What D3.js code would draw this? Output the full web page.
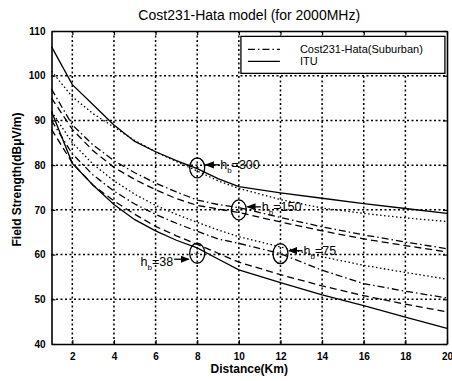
<!DOCTYPE html>
<html>
<head>
<meta charset="utf-8">
<script src="https://cdn.jsdelivr.net/npm/d3@7"></script>
<style>
	body { margin: 0; background: #fff; }
	svg { display: block; font-family: "Liberation Sans", Arial, sans-serif; }
	.grid line { stroke: #000; stroke-width: 1.5; stroke-dasharray: 2,2.5; }
	.curve { fill: none; stroke: #000; stroke-width: 1.3; }
	.tick-label { font-size: 10px; font-weight: bold; }
</style>
</head>
<body>
<svg id="chart" width="452" height="381"></svg>
<script>
// distance in km, field strength in dBuV/m
var distances = [1, 2, 3, 4, 5, 6, 7, 8, 9, 10, 12, 14, 16, 18, 20];

var itu300  = [106.5, 98.0, 93.5, 89.0, 85.3, 83.0, 81.0, 79.2, 77.0, 75.2, 73.8, 72.6, 71.4, 70.3, 69.2];
var cost300 = [101.0, 95.3, 91.5, 88.5, 85.5, 83.0, 80.8, 78.7, 76.5, 74.8, 72.3, 70.4, 69.2, 68.2, 67.4];
var cost150 = [ 97.0, 89.0, 84.5, 81.0, 78.3, 76.0, 74.0, 72.2, 71.2, 70.5, 68.3, 66.2, 64.4, 62.8, 61.3];
var itu150  = [ 95.0, 88.0, 83.2, 79.5, 76.8, 74.5, 72.5, 71.0, 70.2, 69.4, 67.3, 65.3, 63.5, 62.0, 60.6];
var cost75  = [ 92.0, 85.0, 80.2, 76.5, 73.5, 71.0, 69.0, 67.2, 65.5, 64.0, 61.7, 59.5, 57.6, 56.0, 54.5];
var itu75   = [ 90.0, 82.5, 77.8, 74.2, 71.3, 69.0, 67.0, 65.2, 63.5, 62.5, 60.2, 56.5, 53.5, 51.8, 50.3];
var cost38  = [ 88.0, 80.5, 75.5, 72.0, 69.0, 66.3, 64.2, 62.3, 60.3, 58.3, 55.5, 53.0, 50.8, 48.9, 47.2];
var itu38   = [ 92.0, 80.4, 75.5, 71.2, 67.8, 65.3, 63.2, 61.5, 59.0, 56.6, 53.7, 51.0, 48.6, 46.0, 43.5];

var xTicks = [2, 4, 6, 8, 10, 12, 14, 16, 18, 20];
var yTicks = [40, 50, 60, 70, 80, 90, 100, 110];

var legendNames = ["Cost231-Hata(Suburban)", "ITU"];

// circled points with base station height labels
var marks = [
	{ hb: "300", d: 8,  v: 79.4, side: "right" },
	{ hb: "150", d: 10, v: 70.0, side: "right" },
	{ hb: "75",  d: 12, v: 60.2, side: "right" },
	{ hb: "38",  d: 8,  v: 60.3, side: "left" }
];

var dashes = {
	solid: null,
	dotted: "1.5,2.5",
	dashdot: "7,3,1.5,3",
	dashed: "7,4"
};

var series = [
	{ values: itu300,  style: "solid" },
	{ values: cost300, style: "dotted" },
	{ values: cost150, style: "dashdot" },
	{ values: itu150,  style: "dashed" },
	{ values: cost75,  style: "dotted" },
	{ values: itu75,   style: "dashdot" },
	{ values: cost38,  style: "dashed" },
	{ values: itu38,   style: "solid" }
];

var margin = { top: 31, right: 5, bottom: 37, left: 51.5 };
var width = 452 - margin.left - margin.right;
var height = 381 - margin.top - margin.bottom;

var svg = d3.select("#chart");

svg.append("defs").append("marker")
	.attr("id", "arrow")
	.attr("viewBox", "0 0 10 10")
	.attr("refX", 9).attr("refY", 5)
	.attr("markerWidth", 7).attr("markerHeight", 7)
	.attr("orient", "auto")
	.append("path")
	.attr("d", "M0,1 L10,5 L0,9 z")
	.attr("fill", "#000");

var g = svg.append("g")
	.attr("transform", "translate(" + margin.left + "," + margin.top + ")");

var x = d3.scaleLinear().domain([1, 20]).range([0, width]);
var y = d3.scaleLinear().domain([40, 110]).range([height, 0]);

// grid
var grid = g.append("g").attr("class", "grid");
grid.selectAll(".vx")
	.data(xTicks.filter(function(t){ return t < 20; }))
	.enter().append("line")
	.attr("x1", function(d){ return x(d); })
	.attr("x2", function(d){ return x(d); })
	.attr("y1", 0).attr("y2", height);
grid.selectAll(".hy")
	.data(yTicks.filter(function(t){ return t > 40 && t < 110; }))
	.enter().append("line")
	.attr("x1", 0).attr("x2", width)
	.attr("y1", function(d){ return y(d); })
	.attr("y2", function(d){ return y(d); });

// curves
var line = d3.line()
	.x(function(d){ return x(d[0]); })
	.y(function(d){ return y(d[1]); });

g.selectAll(".curve")
	.data(series)
	.enter().append("path")
	.attr("class", "curve")
	.attr("stroke-dasharray", function(s){ return dashes[s.style]; })
	.attr("d", function(s){ return line(distances.map(function(dd, i){ return [dd, s.values[i]]; })); });

// axes (box with inward ticks on all sides)
function tickStyle(sel){
	sel.select(".domain").attr("stroke", "#000").attr("stroke-width", 1.6);
	sel.selectAll(".tick line").attr("stroke", "#000").attr("stroke-width", 1.2);
}

g.append("g")
	.attr("transform", "translate(0," + height + ")")
	.call(d3.axisBottom(x).tickValues(xTicks).tickSize(-4).tickPadding(9).tickSizeOuter(0))
	.call(tickStyle)
	.selectAll("text").attr("class", "tick-label").attr("fill", "#000");

g.append("g")
	.call(d3.axisLeft(y).tickValues(yTicks).tickSize(-4).tickPadding(6).tickSizeOuter(0))
	.call(tickStyle)
	.selectAll("text").attr("class", "tick-label").attr("fill", "#000");

g.append("g")
	.call(d3.axisTop(x).tickValues(xTicks).tickSize(-4).tickFormat("").tickSizeOuter(0))
	.call(tickStyle);

g.append("g")
	.attr("transform", "translate(" + width + ",0)")
	.call(d3.axisRight(y).tickValues(yTicks).tickSize(-4).tickFormat("").tickSizeOuter(0))
	.call(tickStyle);

// circled annotations
var ann = g.selectAll(".ann")
	.data(marks)
	.enter().append("g")
	.attr("class", "ann")
	.attr("transform", function(d){ return "translate(" + x(d.d) + "," + y(d.v) + ")"; });

ann.append("ellipse")
	.attr("rx", 7.5).attr("ry", 10)
	.attr("fill", "none").attr("stroke", "#000").attr("stroke-width", 1.3);
ann.append("path")
	.attr("d", "M-3,0 H3 M0,-4 V4")
	.attr("stroke", "#000").attr("stroke-width", 0.8)
	.attr("stroke-dasharray", "1,1");

ann.append("line")
	.attr("x1", function(d){ return d.side === "right" ? 22 : -23; })
	.attr("x2", function(d){ return d.side === "right" ? 8.5 : -8.5; })
	.attr("y1", function(d){ return d.side === "right" ? -3 : 6; })
	.attr("y2", function(d){ return d.side === "right" ? -3 : 6; })
	.attr("stroke", "#000").attr("stroke-width", 1.3)
	.attr("marker-end", "url(#arrow)");

var lbl = ann.append("text")
	.attr("x", function(d){ return d.side === "right" ? 23 : -24; })
	.attr("y", function(d){ return d.side === "right" ? 1 : 13; })
	.attr("text-anchor", function(d){ return d.side === "right" ? "start" : "end"; })
	.attr("font-size", 12.5);
lbl.append("tspan").text("h");
lbl.append("tspan").attr("font-size", 8).attr("dy", 4).text("b");
lbl.append("tspan").attr("dy", -4).text(function(d){ return "=" + d.hb; });

// legend
var legend = g.append("g")
	.attr("transform", "translate(" + (x(10.1)) + "," + (y(108.8)) + ")");
legend.append("rect")
	.attr("width", 204).attr("height", 37)
	.attr("fill", "#fff").attr("stroke", "#000").attr("stroke-width", 1.3);

var items = legend.selectAll(".item")
	.data(legendNames)
	.enter().append("g")
	.attr("transform", function(d, i){ return "translate(0," + (13 + i * 12) + ")"; });
items.append("line")
	.attr("x1", 7).attr("x2", 39)
	.attr("stroke", "#000").attr("stroke-width", 1.2)
	.attr("stroke-dasharray", function(d, i){ return i === 0 ? "7,3,1.5,3" : null; });
items.append("text")
	.attr("x", 59).attr("y", 4)
	.attr("font-size", 11)
	.text(function(d){ return d; });

// titles
svg.append("text")
	.attr("x", margin.left + width / 2).attr("y", 20)
	.attr("text-anchor", "middle")
	.attr("font-size", 14)
	.text("Cost231-Hata model (for 2000MHz)");

svg.append("text")
	.attr("x", margin.left + width / 2).attr("y", 373)
	.attr("text-anchor", "middle")
	.attr("font-size", 12).attr("font-weight", "bold")
	.text("Distance(Km)");

svg.append("text")
	.attr("transform", "translate(21," + (margin.top + height / 2 - 8) + ") rotate(-90)")
	.attr("text-anchor", "middle")
	.attr("font-size", 12).attr("font-weight", "bold")
	.text("Field Strength(dB\u03bcV/m)");
</script>
</body>
</html>
